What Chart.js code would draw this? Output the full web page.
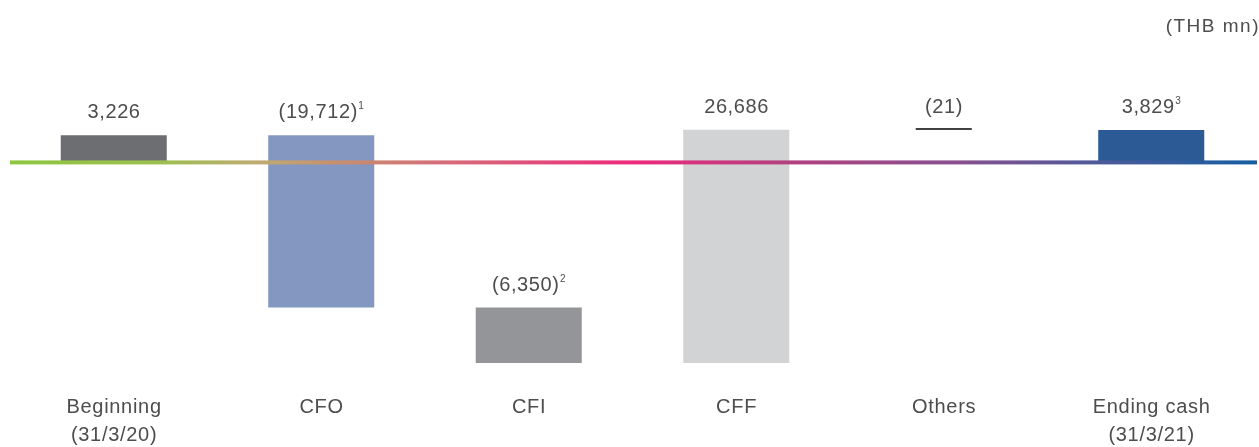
<!DOCTYPE html>
<html>
<head>
<meta charset="utf-8">
<script src="https://cdn.jsdelivr.net/npm/chart.js@4/dist/chart.umd.min.js"></script>
<style>
  html, body { margin: 0; padding: 0; background: #ffffff; }
  #wrap { position: relative; width: 1259px; height: 447px; }
</style>
</head>
<body>
<div id="wrap"><canvas id="chart" width="1259" height="447"></canvas></div>
<script>
// Cash flow bridge, THB mn
const categories = ['Beginning', 'CFO', 'CFI', 'CFF', 'Others', 'Ending cash'];
const subLabels = ['(31/3/20)', '', '', '', '', '(31/3/21)'];
const changes = [3226, -19712, -6350, 26686, -21, 3829];
const valueLabels = ['3,226', '(19,712)', '(6,350)', '26,686', '(21)', '3,829'];
const footnotes = ['', '1', '2', '', '', '3'];
const barColors = ['#6d6e71', '#8497c0', '#939598', '#d1d3d4', '#414042', '#2b5a94'];
const unitLabel = '(THB mn)';

// floating ranges: first and last bars start at zero, the rest step from the running total
const ranges = [];
let running = 0;
changes.forEach((c, i) => {
  if (i === 0 || i === changes.length - 1) {
    ranges.push([0, c]);
    running = c;
  } else {
    ranges.push([running, running + c]);
    running += c;
  }
});

const OTHERS = categories.indexOf('Others');
const mainData = ranges.map((r, i) => (i === OTHERS ? null : r));
const thinData = ranges.map((r, i) => (i === OTHERS ? r : null));

const TEXT = '#4d4d4f';
const FONT = '"Liberation Sans", Arial, Helvetica, sans-serif';

const overlay = {
  id: 'overlay',
  afterDatasetsDraw(chart) {
    const ctx = chart.ctx;
    const x = chart.scales.x, y = chart.scales.y;
    const zeroY = y.getPixelForValue(0);

    // gradient baseline across the full width
    const x0 = 10, x1 = 1257;
    const g = ctx.createLinearGradient(x0, 0, x1, 0);
    g.addColorStop(0.00, '#8dc63f');
    g.addColorStop(0.12, '#9cbf4f');
    g.addColorStop(0.20, '#c0aa72');
    g.addColorStop(0.26, '#c8906c');
    g.addColorStop(0.34, '#d4707a');
    g.addColorStop(0.50, '#ec2a7b');
    g.addColorStop(0.62, '#b4407f');
    g.addColorStop(0.76, '#885090');
    g.addColorStop(0.88, '#4a5a9a');
    g.addColorStop(1.00, '#155ea2');
    ctx.save();
    ctx.fillStyle = g;
    ctx.fillRect(x0, zeroY - 3, x1 - x0, 4);
    ctx.restore();

    // value labels above each bar, footnote markers as superscripts
    ctx.save();
    ctx.fillStyle = TEXT;
    ctx.textBaseline = 'alphabetic';
    const LS = 0.6;
    ranges.forEach((r, i) => {
      const cx = x.getPixelForValue(i);
      const top = y.getPixelForValue(Math.max(r[0], r[1]));
      ctx.font = '20px ' + FONT;
      ctx.letterSpacing = LS + 'px';
      const w = ctx.measureText(valueLabels[i]).width - LS;
      const sup = footnotes[i];
      ctx.font = '10px ' + FONT;
      ctx.letterSpacing = '0px';
      const sw = sup ? ctx.measureText(sup).width + 1 : 0;
      const left = cx - (w + sw) / 2;
      const base = top - 17;
      ctx.font = '20px ' + FONT;
      ctx.letterSpacing = LS + 'px';
      ctx.textAlign = 'left';
      ctx.fillText(valueLabels[i], left, base);
      if (sup) {
        ctx.font = '10px ' + FONT;
        ctx.letterSpacing = '0px';
        ctx.fillText(sup, left + w + 1, base - 9);
      }
    });

    // category labels below the plot
    ctx.font = '20px ' + FONT;
    ctx.letterSpacing = '0.7px';
    ctx.textAlign = 'center';
    categories.forEach((c, i) => {
      const cx = x.getPixelForValue(i) + 0.35;
      ctx.fillText(c, cx, 413);
      if (subLabels[i]) ctx.fillText(subLabels[i], cx, 441);
    });

    // unit note, top right
    ctx.font = '19px ' + FONT;
    ctx.letterSpacing = '1.5px';
    ctx.textAlign = 'right';
    ctx.fillText(unitLabel, 1260, 32);
    ctx.restore();
  }
};

new Chart(document.getElementById('chart'), {
  type: 'bar',
  data: {
    labels: categories,
    datasets: [
      {
        data: mainData,
        backgroundColor: barColors,
        borderWidth: 0,
        grouped: false,
        categoryPercentage: 1,
        barPercentage: 0.511
      },
      {
        data: thinData,
        backgroundColor: barColors,
        borderWidth: 0,
        minBarLength: 2,
        grouped: false,
        categoryPercentage: 1,
        barPercentage: 0.27
      }
    ]
  },
  options: {
    responsive: false,
    animation: false,
    layout: { padding: { left: 10, right: 4, top: 41, bottom: 65 } },
    plugins: { legend: { display: false }, tooltip: { enabled: false } },
    scales: {
      x: { display: false },
      y: { display: false, min: -25000, max: 14000 }
    }
  },
  plugins: [overlay]
});
</script>
</body>
</html>
